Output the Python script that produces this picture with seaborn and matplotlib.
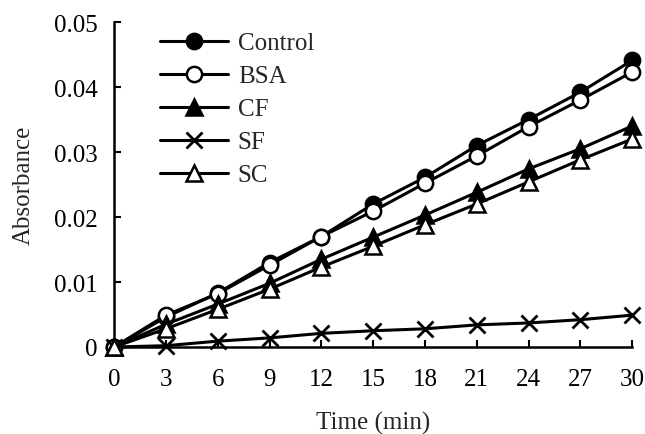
import matplotlib
matplotlib.use("Agg")
import matplotlib.pyplot as plt
import pandas as pd
import seaborn as sns

TIME = [0, 3, 6, 9, 12, 15, 18, 21, 24, 27, 30]
CONTROL = [0, 0.0046, 0.0083, 0.0130, 0.0170, 0.0220, 0.0261, 0.0310, 0.0350, 0.0392, 0.0441]
BSA = [0, 0.0049, 0.0082, 0.0126, 0.0170, 0.0209, 0.0252, 0.0294, 0.0339, 0.0380, 0.0423]
CF = [0, 0.0035, 0.0066, 0.0098, 0.0135, 0.0169, 0.0203, 0.0238, 0.0274, 0.0305, 0.0340]
SF = [0, 0.0002, 0.0009, 0.0014, 0.0021, 0.0025, 0.0028, 0.0034, 0.0037, 0.0042, 0.0049]
SC = [0, 0.0028, 0.0058, 0.0089, 0.0123, 0.0155, 0.0188, 0.0220, 0.0254, 0.0288, 0.0320]

SERIES = ["Control", "BSA", "CF", "SF", "SC"]
MARKERS = {"Control": "o", "BSA": "o", "CF": "^", "SF": "x", "SC": "^"}
FACES = {"Control": "black", "BSA": "white", "CF": "black", "SF": "black", "SC": "white"}

sns.set_style("ticks")
plt.rcParams["font.family"] = ["Liberation Serif", "DejaVu Serif"]

df = pd.DataFrame({"time": TIME, "Control": CONTROL, "BSA": BSA, "CF": CF, "SF": SF, "SC": SC})
long_df = df.melt(id_vars="time", var_name="series", value_name="absorbance")

fig = plt.figure(figsize=(6.45, 4.35), dpi=100)
ax = fig.add_axes([0.177, 0.2, 0.803, 0.747])

for name in SERIES:
    sub = long_df[long_df["series"] == name]
    is_x = MARKERS[name] == "x"
    sns.lineplot(
        data=sub, x="time", y="absorbance", ax=ax, color="black", lw=2.2,
        marker=MARKERS[name], markersize=12 if is_x else 11,
        markerfacecolor=FACES[name], markeredgecolor="black",
        markeredgewidth=2.0 if is_x else 1.8,
        label=name, clip_on=False, zorder=3,
    )

ax.set_xlim(0, 30)
ax.set_ylim(0, 0.05)
ax.set_xticks(TIME)
ax.set_yticks([0, 0.01, 0.02, 0.03, 0.04, 0.05])
ax.set_yticklabels(["0", "0.01", "0.02", "0.03", "0.04", "0.05"])
ax.tick_params(direction="in", length=5, width=1.5, labelsize=18, colors="black")
ax.tick_params(axis="y", pad=12)
ax.tick_params(axis="x", pad=15)
for side in ["left", "bottom"]:
    ax.spines[side].set_linewidth(1.8)
    ax.spines[side].set_color("black")
sns.despine(ax=ax)

ax.set_xlabel("Time (min)", fontsize=18, labelpad=15)
ax.set_ylabel("Absorbance", fontsize=18, labelpad=14)

ax.legend(loc="upper left", bbox_to_anchor=(0.089, 0.97), frameon=False, fontsize=18,
          handlelength=2.7, handletextpad=0.4, labelspacing=0.42,
          borderpad=0, borderaxespad=0)

fig.savefig("out.png", dpi=100)
